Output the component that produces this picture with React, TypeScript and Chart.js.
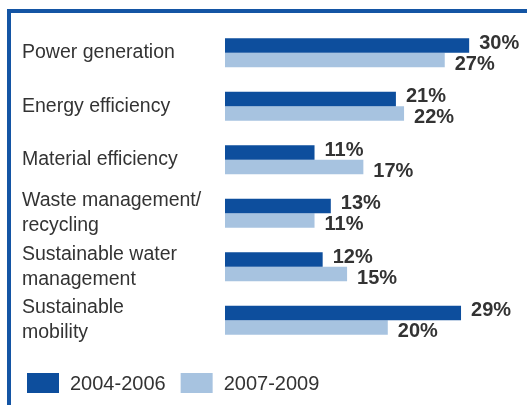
import React, { useEffect, useRef } from "react";
import { Chart, registerables } from "chart.js";

Chart.register(...registerables);

const categories: string[][] = [
  ["Power generation"],
  ["Energy efficiency"],
  ["Material efficiency"],
  ["Waste management/", "recycling"],
  ["Sustainable water", "management"],
  ["Sustainable", "mobility"],
];
const seriesNames = ["2004-2006", "2007-2009"];
const values2004_2006 = [30, 21, 11, 13, 12, 29];
const values2007_2009 = [27, 22, 17, 11, 15, 20];

const DARK = "#0d4e9d";
const LIGHT = "#a7c3e0";
const FRAME = "#1455a4";
const TEXT = "#333333";
const FONT = "'Liberation Sans', Arial, Helvetica, sans-serif";

const framePlugin = {
  id: "frame",
  beforeDraw(chart: any) {
    const ctx = chart.ctx;
    ctx.save();
    ctx.fillStyle = "#ffffff";
    ctx.fillRect(0, 0, chart.width, chart.height);
    ctx.fillStyle = FRAME;
    ctx.fillRect(7, 9, chart.width - 7, 4);
    ctx.fillRect(7, 9, 4, chart.height - 9);
    ctx.restore();
  },
};

const valueLabelPlugin = {
  id: "valueLabels",
  afterDatasetsDraw(chart: any) {
    const ctx = chart.ctx;
    ctx.save();
    ctx.font = `bold 20px ${FONT}`;
    ctx.fillStyle = TEXT;
    ctx.textAlign = "left";
    ctx.textBaseline = "middle";
    chart.data.datasets.forEach((ds: any, di: number) => {
      const meta = chart.getDatasetMeta(di);
      const dy = di === 0 ? -2 : 4;
      meta.data.forEach((bar: any, i: number) => {
        ctx.fillText(`${ds.data[i]}%`, bar.x + 10, bar.y + dy);
      });
    });
    ctx.restore();
  },
};

const legendPlugin = {
  id: "customLegend",
  afterDraw(chart: any) {
    const ctx = chart.ctx;
    ctx.save();
    ctx.font = `20px ${FONT}`;
    ctx.textAlign = "left";
    ctx.textBaseline = "middle";
    let x = 27;
    const y = 373;
    chart.data.datasets.forEach((ds: any) => {
      ctx.fillStyle = ds.backgroundColor;
      ctx.fillRect(x, y, 32, 20);
      ctx.fillStyle = TEXT;
      ctx.fillText(ds.label, x + 43, y + 11);
      x += 43 + ctx.measureText(ds.label).width + 15;
    });
    ctx.restore();
  },
};

export default function App() {
  const ref = useRef<HTMLCanvasElement | null>(null);

  useEffect(() => {
    if (!ref.current) return;
    const chart = new Chart(ref.current, {
      type: "bar",
      data: {
        labels: categories,
        datasets: [
          { label: seriesNames[0], data: values2004_2006, backgroundColor: DARK },
          { label: seriesNames[1], data: values2007_2009, backgroundColor: LIGHT },
        ],
      },
      options: {
        indexAxis: "y",
        responsive: false,
        animation: false,
        events: [],
        layout: { padding: { left: 22, right: 9, top: 26, bottom: 58 } },
        datasets: {
          bar: { categoryPercentage: 0.545, barPercentage: 1.0 },
        },
        scales: {
          x: { display: false, min: 0, max: 36 },
          y: {
            grid: { display: false },
            border: { display: false },
            afterFit(scale: any) {
              scale.width = 203;
              scale.paddingTop = 0;
              scale.paddingBottom = 0;
            },
            ticks: {
              crossAlign: "far",
              color: TEXT,
              font: { family: FONT, size: 19.5, lineHeight: 1.27 },
              padding: 8,
            },
          },
        },
        plugins: {
          legend: { display: false },
          tooltip: { enabled: false },
        },
      } as any,
      plugins: [framePlugin, valueLabelPlugin, legendPlugin],
    });
    return () => chart.destroy();
  }, []);

  return (
    <div style={{ position: "fixed", left: 0, top: 0, width: 527, height: 405, background: "#fff" }}>
      <canvas ref={ref} width={527} height={405} style={{ display: "block", width: 527, height: 405 }} />
    </div>
  );
}
